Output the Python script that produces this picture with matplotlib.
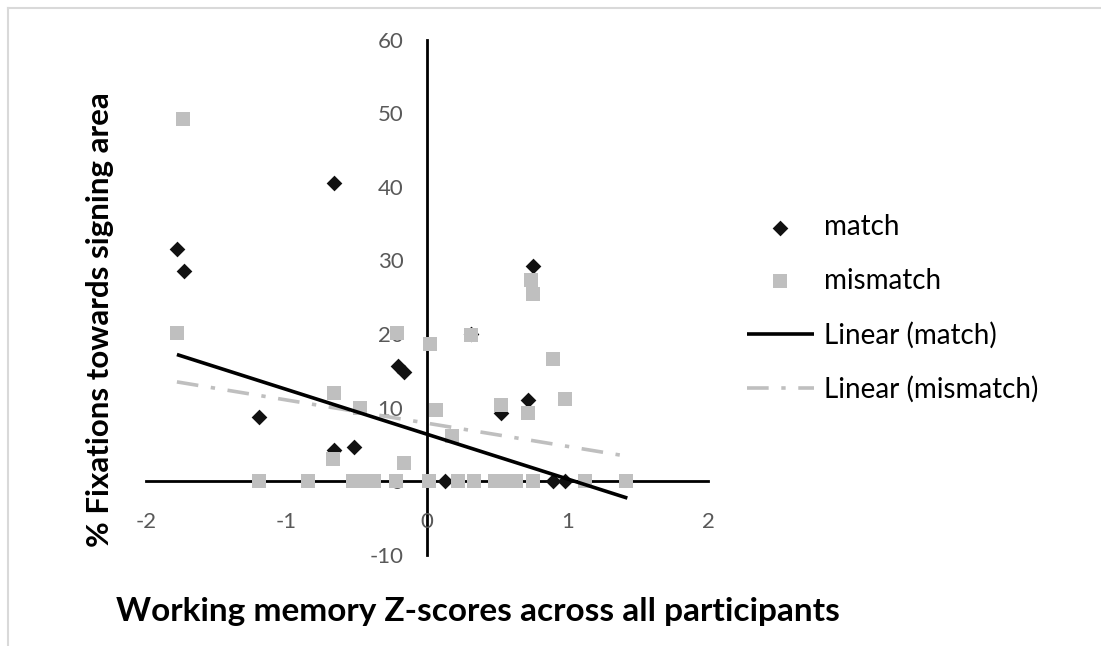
import matplotlib
matplotlib.use("Agg")
import matplotlib.pyplot as plt
from matplotlib.lines import Line2D
import numpy as np

# ---- data ----
match_x = [-1.78, -1.73, -0.66, -1.196, -0.66, -0.52, -0.204, -0.164,
           0.757, 0.72, 0.525, 0.31, 0.128, 0.895, 0.98]
match_y = [31.6, 28.6, 40.5, 8.7, 4.2, 4.6, 15.6, 14.8,
           29.2, 11.0, 9.3, 20.0, 0.0, 0.0, 0.0]

mismatch_x = [-1.734, -1.78, -0.66, -0.48, -0.667, -0.164, 0.02, 0.064,
              -0.215, 0.176, 0.313, 0.525, 0.72, 0.738, 0.757, 0.895, 0.985,
              -1.196, -0.85, -0.527, -0.448, -0.377, -0.224, 0.015, 0.22,
              0.335, 0.484, 0.559, 0.633, 0.754, 1.125, 1.418]
mismatch_y = [49.2, 20.2, 12.0, 9.9, 3.1, 2.5, 18.6, 9.7,
              20.1, 6.1, 19.9, 10.4, 9.3, 27.4, 25.5, 16.6, 11.2,
              0, 0, 0, 0, 0, 0, 0, 0,
              0, 0, 0, 0, 0, 0, 0]

# linear trend lines (slope, intercept)
trend_match = [-6.08, 6.4]
trend_mismatch = [-3.15, 7.9]
trend_x_range = [-1.78, 1.426]

x_ticks = [-2, -1, 0, 1, 2]
y_ticks = [-10, 0, 10, 20, 30, 40, 50, 60]

GRAY = "#BFBFBF"
TICK_COLOR = "#595959"
FONT = ["Lato", "DejaVu Sans"]
plt.rcParams["font.family"] = FONT

W, H = 1101, 646
fig = plt.figure(figsize=(W / 100, H / 100), dpi=100)

# figure border (light gray, top & left visible)
fig.add_artist(Line2D([8 / W, 1], [1 - 8 / H, 1 - 8 / H], color="#D9D9D9", lw=1.5,
                      transform=fig.transFigure))
fig.add_artist(Line2D([8 / W, 8 / W], [0, 1 - 8 / H], color="#D9D9D9", lw=1.5,
                      transform=fig.transFigure))

left, right, top, bottom = 146, 708, 39.5, 555
ax = fig.add_axes([left / W, 1 - bottom / H, (right - left) / W, (bottom - top) / H])
ax.set_xlim(-2, 2)
ax.set_ylim(-10, 60)
ax.patch.set_alpha(0)

ax.scatter(match_x, match_y, marker="D", s=8.0 ** 2, color="#111111",
           linewidths=0, zorder=1.5, label="match")
ax.scatter(mismatch_x, mismatch_y, marker="s", s=10.5 ** 2, color=GRAY,
           linewidths=0, zorder=1.6, label="mismatch")

tx = np.array(trend_x_range)
ax.plot(tx, trend_match[0] * tx + trend_match[1], color="black", lw=2.6,
        zorder=1.8, solid_capstyle="butt", label="Linear (match)")
ax.plot(tx, trend_mismatch[0] * tx + trend_mismatch[1], color=GRAY, lw=2.6,
        zorder=1.7, dashes=(6, 3.5, 1.2, 3.5), label="Linear (mismatch)")

for s in ["top", "right"]:
    ax.spines[s].set_visible(False)
ax.spines["left"].set_position(("data", 0))
ax.spines["bottom"].set_position(("data", 0))
for s in ["left", "bottom"]:
    ax.spines[s].set_linewidth(2.0)
    ax.spines[s].set_color("black")
    ax.spines[s].set_zorder(1.4)

ax.set_xticks(x_ticks)
ax.set_yticks(y_ticks)
ax.set_xticklabels([str(v) for v in x_ticks])
ax.set_yticklabels([str(v) for v in y_ticks])
ax.tick_params(axis="both", length=0, labelsize=16, labelcolor=TICK_COLOR)
ax.tick_params(axis="x", pad=22)
ax.tick_params(axis="y", pad=17)

fig.text(478 / W, 1 - 612 / H, "Working memory Z-scores across all participants",
         ha="center", va="center", fontsize=24, fontweight="bold", color="black")
fig.text(100 / W, 1 - 320 / H, "% Fixations towards signing area",
         ha="center", va="center", rotation=90, fontsize=22.5, fontweight="bold",
         color="black")

leg = ax.legend(loc="upper left", bbox_to_anchor=(747 / W, 1 - 214 / H),
                bbox_transform=fig.transFigure, frameon=False, fontsize=20,
                handlelength=2.4, handletextpad=0.36, labelspacing=1.0,
                borderaxespad=0, borderpad=0)
for t in leg.get_texts():
    t.set_color("black")

fig.savefig("out.png", dpi=100)
